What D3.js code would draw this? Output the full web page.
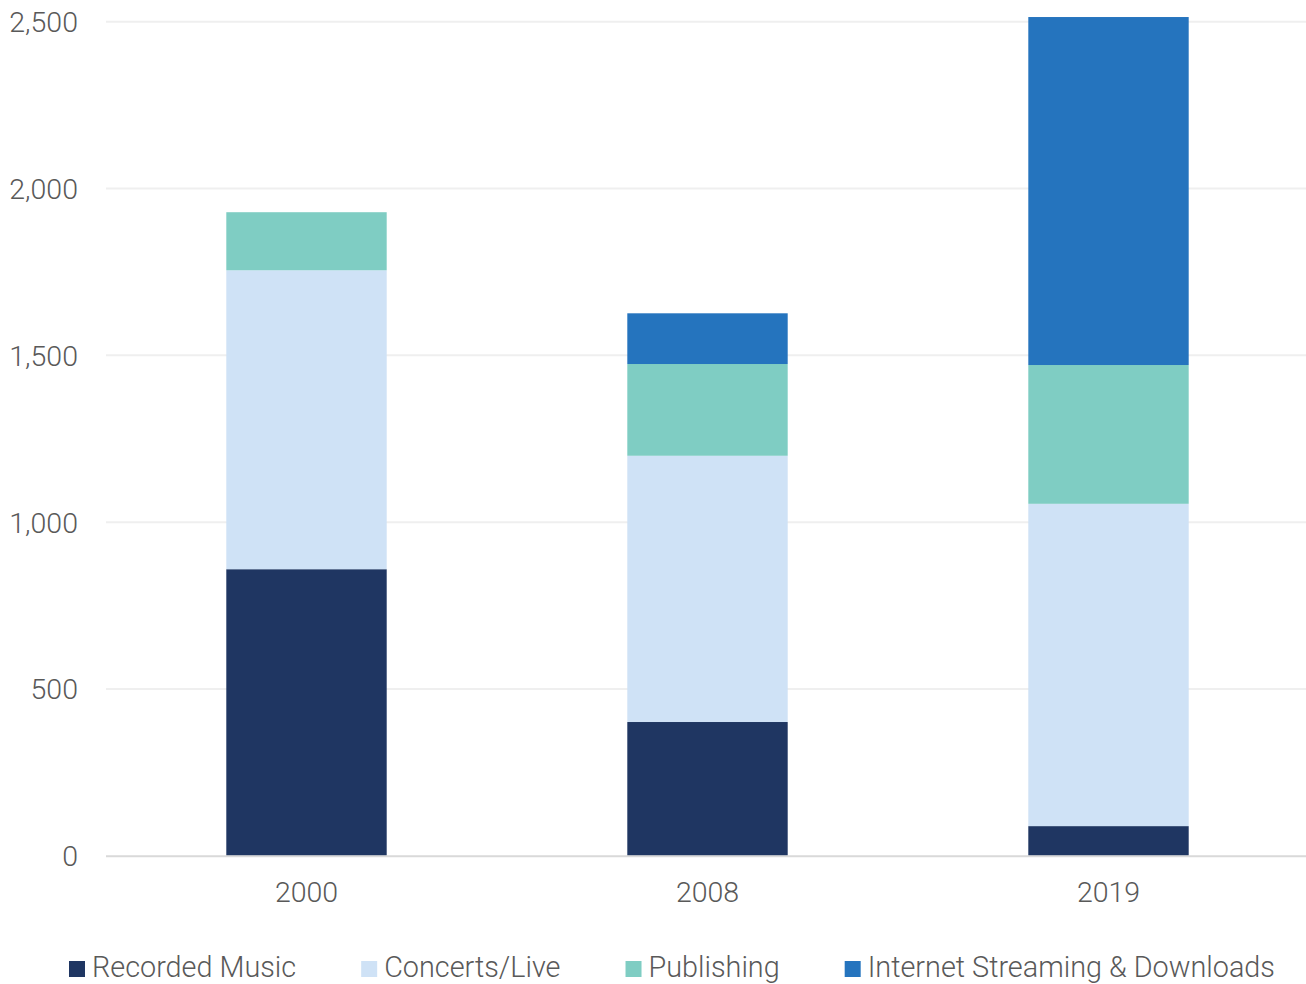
<html>
<meta charset="utf-8">
<script src="https://cdn.jsdelivr.net/npm/d3@7"></script>
<style>
body{
  margin: 0;
  background: white;
}
.tick text, .legend text{
  font-family: Roboto, sans-serif;
  font-weight: 300;
  fill: #595959;
}
</style>
<body>
<div id="chart"></div>
<script>
var years = ["2000", "2008", "2019"];
var seriesNames = ["Recorded Music", "Concerts/Live", "Publishing", "Internet Streaming & Downloads"];
var recordedMusic = [859, 401, 89];
var concertsLive = [896, 798, 966];
var publishing = [174, 275, 416];
var internetStreaming = [0, 152, 1043];
var seriesColors = ["#1f3662", "#cfe2f6", "#7fcdc3", "#2574be"];
var yTicks = [0, 500, 1000, 1500, 2000, 2500];

var width = 1306, height = 984;
var fontSize = "28.5px";

var rows = years.map(function(y, i){
  return {year: y, "Recorded Music": recordedMusic[i], "Concerts/Live": concertsLive[i],
          "Publishing": publishing[i], "Internet Streaming & Downloads": internetStreaming[i]};
});

var stack = d3.stack().keys(seriesNames);
var layers = stack(rows);

var svg = d3.select("#chart").append("svg").attr("width", width).attr("height", height);

var x = d3.scaleBand().domain(years).range([106, 1309]).paddingInner(0.6).paddingOuter(0.3);
var y = d3.scaleLinear().domain([0, 2500]).range([855.8, 21.7]);
var color = d3.scaleOrdinal().domain(seriesNames).range(seriesColors);

// gridlines
svg.append("g").selectAll("line").data(yTicks.filter(function(d){return d > 0}))
  .enter().append("line")
  .attr("x1", 106).attr("x2", 1306)
  .attr("y1", function(d){return y(d)}).attr("y2", function(d){return y(d)})
  .attr("stroke", "#efefef").attr("stroke-width", 2);

// y labels
var yAxis = svg.append("g").attr("transform", "translate(78,0)")
  .call(d3.axisLeft(y).tickValues(yTicks).tickSize(0).tickPadding(0).tickFormat(d3.format(",")));
yAxis.select(".domain").remove();
yAxis.selectAll("text").style("font-size", fontSize).attr("dy", "0.35em");

// bars
svg.append("g").selectAll("g").data(layers).enter().append("g")
  .attr("fill", function(d){return color(d.key)})
  .selectAll("rect").data(function(d){return d}).enter().append("rect")
  .filter(function(d){return d[1] - d[0] > 0})
  .attr("x", function(d){return x(d.data.year)})
  .attr("width", x.bandwidth())
  .attr("y", function(d){return y(d[1])})
  .attr("height", function(d){return y(d[0]) - y(d[1])});

// x axis line
svg.append("line")
  .attr("x1", 106).attr("x2", 1306)
  .attr("y1", y(0) + 0.5).attr("y2", y(0) + 0.5)
  .attr("stroke", "#d9d9d9").attr("stroke-width", 2);

var xAxis = svg.append("g").attr("transform", "translate(0," + (y(0)) + ")")
  .call(d3.axisBottom(x).tickSize(0).tickPadding(0));
xAxis.select(".domain").remove();
xAxis.selectAll("text").style("font-size", fontSize).attr("y", 46).attr("dy", "0");

// legend
var legend = svg.append("g").attr("class", "legend");
var lx = 69;
seriesNames.forEach(function(name){
  var item = legend.append("g").attr("transform", "translate(" + lx + ",0)");
  item.append("rect").attr("x", 0).attr("y", 961).attr("width", 16).attr("height", 16)
    .attr("fill", color(name));
  var t = item.append("text").attr("x", 23).attr("y", 977)
    .style("font-size", "28.8px").text(name);
  lx += 23 + t.node().getComputedTextLength() + 65;
});
</script>
</body>
</html>
